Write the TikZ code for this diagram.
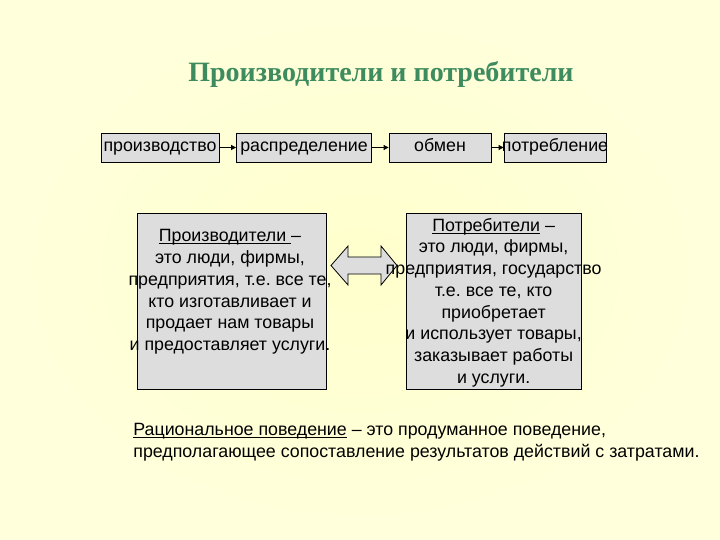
\documentclass[tikz,border=0pt]{standalone}
\usepackage{fontspec}
\setmainfont{Liberation Sans}
\newfontfamily\headfont{Liberation Serif}
\usetikzlibrary{arrows.meta, positioning}
\definecolor{cpaper}{HTML}{FFFFDC}
\definecolor{cpaperin}{HTML}{FFFFCC}
\definecolor{cgrey}{HTML}{DDDDDD}
\definecolor{cgreen}{HTML}{3D8B5E}
\newcommand{\bodysize}{\fontsize{17.8bp}{21.7bp}\selectfont}
\newsavebox{\uwordbox}
\newcommand{\uword}[1]{\sbox{\uwordbox}{#1}\rlap{\rule[-2.2bp]{\wd\uwordbox}{0.7pt}}\usebox{\uwordbox}}
\frenchspacing
\tikzset{
  every picture/.style={line width=0.8pt},
  stage/.style={draw=black, fill=cgrey, minimum height=29bp, minimum width=#1, inner sep=0pt,
    text height=12.8bp, text depth=3.9bp, font=\bodysize},
  panel/.style={draw=black, fill=cgrey, minimum height=176bp, minimum width=#1, inner sep=0pt},
  body/.style={align=center, inner sep=0pt, font=\bodysize},
  flow/.style={-{Triangle[length=5bp, width=5bp]}, draw=black, line width=0.8pt},
  title/.style={font=\headfont\bfseries\fontsize{28bp}{34bp}\selectfont, text=cgreen},
}

\begin{document}
\begin{tikzpicture}[x=1bp, y=-1bp]
  % page: 720 x 540, y runs downwards
  \useasboundingbox (0,0) rectangle (720,540);
  \shade[inner color=cpaperin, outer color=cpaper] (0,0) rectangle (720,540);
  \node[title, anchor=base] (title) at (381,81.7) {Производители и потребители};
  % chain of stages
  \node[stage=118bp] (prod) at (160,147.5) {\makebox[0pt]{производство}};
  \node[stage=135bp] (distr) at (304,147.5) {\makebox[0pt]{распределение}};
  \node[stage=102bp] (exch) at (440,147.5) {\makebox[0pt]{обмен}};
  \node[stage=102bp] (cons) at (555,147.5) {\makebox[0pt]{потребление}};
  \draw[flow] (prod) -- (distr);
  \draw[flow] (distr) -- (exch);
  \draw[flow] (exch) -- (cons);
  % the two parties
  \node[panel=188.5bp] (makers) at (232,301) {};
  \node[panel=175bp] (buyers) at (493.5,301) {};
  \fill[cgrey, draw=black] (331,265.5) -- (348,246) -- (348,257) -- (381,257) -- (381,246) -- (397,265.5)
       -- (381,285) -- (381,274) -- (348,274) -- (348,285) -- cycle;
  \node[body] (makerstext) at (230,291.9) {\uword{Производители\ }--\\это люди, фирмы,\\предприятия, т.е. все те,\\кто изготавливает и\\продает нам товары\\и предоставляет услуги.};
  \node[body] (buyerstext) at (493.6,302.5) {\uword{Потребители} --\\это люди, фирмы,\\предприятия, государство\\т.е. все те, кто\\приобретает\\и использует товары,\\заказывает работы\\и услуги.};
  % definition
  \node[body, align=left, anchor=west] (rational) at (133,442.3) {\uword{Рациональное поведение} -- это продуманное поведение,\\предполагающее сопоставление результатов действий с затратами.};
\end{tikzpicture}
\end{document}
